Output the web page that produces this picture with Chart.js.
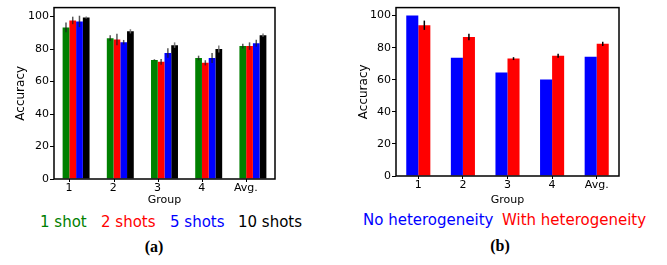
<!DOCTYPE html>
<html>
<head>
<meta charset="utf-8">
<script src="https://cdn.jsdelivr.net/npm/chart.js@4"></script>
<style>
  body { margin: 0; background: #fff; }
  #wrap { position: relative; width: 667px; height: 265px; overflow: hidden; font-family: 'DejaVu Sans', sans-serif; }
  canvas { position: absolute; top: 0; }
  .lg { position: absolute; font-size: 15px; line-height: 1; white-space: nowrap; }
  .cap { position: absolute; font-family: 'Liberation Serif', serif; font-weight: bold; font-size: 16px; line-height: 1; transform: translateX(-50%); }
</style>
</head>
<body>
<div id="wrap">
  <canvas id="left" width="333" height="210" style="left:0"></canvas>
  <canvas id="right" width="334" height="210" style="left:333px"></canvas>

  <span class="lg" style="left:40px;top:215px;color:#008000">1 shot</span>
  <span class="lg" style="left:101px;top:215px;color:#ff0000">2 shots</span>
  <span class="lg" style="left:170px;top:215px;color:#0000ff">5 shots</span>
  <span class="lg" style="left:238px;top:215px;color:#000">10 shots</span>
  <span class="cap" style="left:154px;top:239px">(a)</span>

  <span class="lg" style="left:363px;top:213px;color:#0000ff">No heterogeneity</span>
  <span class="lg" style="left:502px;top:213px;color:#ff0000">With heterogeneity</span>
  <span class="cap" style="left:500px;top:238px">(b)</span>
</div>
<script>
// data
const groups = ['1', '2', '3', '4', 'Avg.'];
const yTicks = [0, 20, 40, 60, 80, 100];

// (a) few-shot accuracy
const shot1 = [93.3, 86.7, 73.3, 74.5, 81.8];
const shot1Err = [3.0, 1.8, 0.4, 1.4, 1.4];
const shot2 = [97.6, 85.9, 72.1, 71.5, 81.8];
const shot2Err = [2.3, 3.5, 1.8, 1.6, 2.3];
const shot5 = [97.0, 84.2, 77.6, 74.5, 83.6];
const shot5Err = [3.5, 1.4, 2.9, 3.1, 2.1];
const shot10 = [99.4, 90.9, 82.4, 80.0, 88.5];
const shot10Err = [0.6, 1.3, 1.7, 2.2, 1.0];

// (b) heterogeneity
const noHet = [100, 73.8, 64.5, 60.2, 74.4];
const withHet = [94.0, 86.7, 73.2, 75.0, 82.4];
const withHetErr = [2.9, 2.0, 0.9, 1.2, 1.3];

Chart.defaults.font.family = "'DejaVu Sans', sans-serif";
Chart.defaults.color = '#000';

// error bars + box frame (matplotlib style spines)
const extras = {
    id: 'extras',
    afterDatasetsDraw(chart) {
        const ctx = chart.ctx;
        const y = chart.scales.y;
        ctx.save();
        chart.data.datasets.forEach((ds, i) => {
            if (!ds.err) return;
            const meta = chart.getDatasetMeta(i);
            ctx.strokeStyle = ds.errColor || 'rgba(30,30,30,0.75)';
            ctx.lineWidth = 1.5;
            meta.data.forEach((bar, j) => {
                ctx.beginPath();
                ctx.moveTo(bar.x, y.getPixelForValue(ds.data[j] + ds.err[j]));
                ctx.lineTo(bar.x, y.getPixelForValue(ds.data[j] - ds.err[j]));
                ctx.stroke();
            });
        });
        ctx.restore();
    },
    afterDraw(chart) {
        const ctx = chart.ctx;
        const a = chart.chartArea;
        ctx.save();
        ctx.strokeStyle = '#000';
        ctx.lineWidth = 1.5;
        ctx.strokeRect(a.left, a.top, a.right - a.left, a.bottom - a.top);
        // left chart: x ticks sit at the edge of the first bar of each group
        if (chart.options.tickAtFirstBar) {
            ctx.lineWidth = 1;
            chart.getDatasetMeta(0).data.forEach(bar => {
                const x = Math.round(bar.x + bar.width / 2) + 0.5;
                ctx.beginPath();
                ctx.moveTo(x, a.bottom);
                ctx.lineTo(x, a.bottom + 3);
                ctx.stroke();
            });
        }
        ctx.restore();
    }
};

function yAxis(max, width, titlePad) {
    return {
        min: 0,
        max: max,
        afterFit: s => { s.width = width; },
        afterBuildTicks: s => { s.ticks = yTicks.map(v => ({ value: v })); },
        border: { display: false },
        grid: { drawOnChartArea: false, tickLength: 4, color: '#000', tickWidth: 1 },
        ticks: { padding: 1, font: { size: 11 } },
        title: { display: true, text: 'Accuracy', font: { size: 12 }, padding: { top: titlePad, bottom: 0 } }
    };
}

function xAxis(height, extra) {
    return Object.assign({
        afterFit: s => { s.height = height; },
        border: { display: false },
        title: { display: true, text: 'Group', font: { size: 11 }, padding: { top: 0, bottom: 3 } }
    }, extra);
}

new Chart(document.getElementById('left'), {
    type: 'bar',
    data: {
        labels: groups,
        datasets: [
            { label: '1 shot', data: shot1, err: shot1Err, backgroundColor: '#008000' },
            { label: '2 shots', data: shot2, err: shot2Err, backgroundColor: '#ff0000' },
            { label: '5 shots', data: shot5, err: shot5Err, backgroundColor: '#0000ff' },
            { label: '10 shots', data: shot10, err: shot10Err, backgroundColor: '#000000', errColor: 'rgba(110,110,110,0.9)' }
        ]
    },
    options: {
        responsive: false,
        animation: false,
        tickAtFirstBar: true,
        layout: { padding: { top: 5, right: 58, left: 0, bottom: 0 } },
        datasets: { bar: { categoryPercentage: 0.61, barPercentage: 1.0 } },
        plugins: { legend: { display: false }, tooltip: { enabled: false } },
        scales: {
            x: xAxis(31, {
                grid: { display: true, drawOnChartArea: false, tickLength: 3, color: 'rgba(0,0,0,0)' },
                ticks: { padding: 0, labelOffset: -7, font: { size: 11 } }
            }),
            y: yAxis(105.5, 54, 14)
        }
    },
    plugins: [extras]
});

new Chart(document.getElementById('right'), {
    type: 'bar',
    data: {
        labels: groups,
        datasets: [
            { label: 'No heterogeneity', data: noHet, backgroundColor: '#0000ff' },
            { label: 'With heterogeneity', data: withHet, err: withHetErr, backgroundColor: '#ff0000', errColor: '#000' }
        ]
    },
    options: {
        responsive: false,
        animation: false,
        layout: { padding: { top: 5, right: 48, left: 0, bottom: 0 } },
        datasets: { bar: { categoryPercentage: 0.54, barPercentage: 1.0 } },
        plugins: { legend: { display: false }, tooltip: { enabled: false } },
        scales: {
            x: xAxis(34, {
                grid: { display: true, offset: false, drawOnChartArea: false, tickLength: 3, color: '#000' },
                ticks: { padding: 0, font: { size: 11 } }
            }),
            y: yAxis(105, 63, 24)
        }
    },
    plugins: [extras]
});
</script>
</body>
</html>
